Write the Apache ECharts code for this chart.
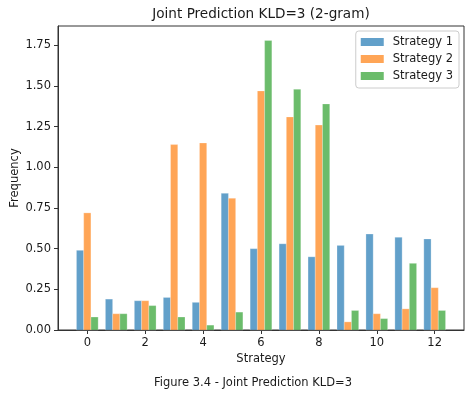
<!DOCTYPE html>
<html><head><meta charset="utf-8">
<script src="https://cdn.jsdelivr.net/npm/echarts@6/dist/echarts.min.js"></script>
<style>html,body{margin:0;padding:0;background:#fff}#c{width:473px;height:396px}</style>
</head><body><div id="c"></div>
<script>
const categories = [0,1,2,3,4,5,6,7,8,9,10,11,12];
const strategy1 = [0.49,0.19,0.18,0.20,0.17,0.84,0.50,0.53,0.45,0.52,0.59,0.57,0.56];
const strategy2 = [0.72,0.10,0.18,1.14,1.15,0.81,1.47,1.31,1.26,0.05,0.10,0.13,0.26];
const strategy3 = [0.08,0.10,0.15,0.08,0.03,0.11,1.78,1.48,1.39,0.12,0.07,0.41,0.12];
const xTicks = [0,2,4,6,8,10,12];
const seriesNames = ['Strategy 1','Strategy 2','Strategy 3'];
const colors = ['rgba(31,119,180,0.7)','rgba(255,127,14,0.7)','rgba(44,160,44,0.7)'];
const offsets = [-0.25,0,0.25];
const barW = 0.25;
const F = 'DejaVu Sans';
const FS = 11.5;

function mkSeries(idx, vals){
  return {
    name: seriesNames[idx], type:'custom',
    data: categories.map((c,i)=>[c+offsets[idx], vals[i]]),
    itemStyle:{color:colors[idx]},
    encode:{x:0,y:1},
    renderItem: function(params, api){
      const x = api.value(0), y = api.value(1);
      const p0 = api.coord([x - barW/2, 0]);
      const p1 = api.coord([x + barW/2, y]);
      return {type:'rect', shape:{x:p0[0], y:p1[1], width:p1[0]-p0[0], height:p0[1]-p1[1]},
        style:{fill:colors[idx], stroke:'rgba(255,255,255,0.5)', lineWidth:0.5}};
    }
  };
}

const chart = echarts.init(document.getElementById('c'), null, {renderer:'canvas'});
chart.setOption({
  animation:false,
  backgroundColor:'#fff',
  title:[{text:'Joint Prediction KLD=3 (2-gram)', left:256, top:2, textAlign:'center',
    textStyle:{fontFamily:F, fontSize:13.6, fontWeight:'normal', color:'#1a1a1a'}},
    {text:'Figure 3.4 - Joint Prediction KLD=3', left:248, top:372, textAlign:'center',
    textStyle:{fontFamily:F, fontSize:11.5, fontWeight:'normal', color:'#1a1a1a'}}],
  legend:{
    data: seriesNames.map((n,i)=>({name:n, itemStyle:{color:colors[i]}})),
    orient:'vertical', right:14, top:31, itemWidth:23, itemHeight:8, itemGap:5,
    icon:'rect', borderColor:'#ccc', borderWidth:1, borderRadius:3, padding:[5,6,6,5],
    textStyle:{fontFamily:F, fontSize:FS, color:'#1a1a1a', padding:[0,0,0,4]}
  },
  grid:{left:58, right:9, top:26, bottom:66, show:true, borderColor:'#333', borderWidth:1,
    backgroundColor:'transparent', containLabel:false, outerBoundsMode:'none'},
  xAxis:{type:'value', min:-1.0125, max:13.0125,
    name:'Strategy', nameLocation:'middle', nameGap:23, nameMoveOverlap:false,
    nameTextStyle:{fontFamily:F, fontSize:FS, color:'#1a1a1a'},
    axisLine:{show:true, onZero:false, lineStyle:{color:'#333'}},
    axisTick:{show:true, length:4, lineStyle:{color:'#333'}, customValues:xTicks},
    axisLabel:{fontFamily:F, fontSize:FS, color:'#1a1a1a', margin:7, customValues:xTicks},
    splitLine:{show:false}},
  yAxis:{type:'value', min:0, max:1.869, interval:0.25,
    name:'Frequency', nameLocation:'middle', nameGap:37, nameRotate:90, nameMoveOverlap:false,
    nameTextStyle:{fontFamily:F, fontSize:FS, color:'#1a1a1a'},
    axisLine:{show:true, onZero:false, lineStyle:{color:'#333'}},
    axisTick:{show:true, length:4, lineStyle:{color:'#333'}},
    axisLabel:{fontFamily:F, fontSize:FS, color:'#1a1a1a', margin:7, showMaxLabel:false,
      formatter:v=>v.toFixed(2)},
    splitLine:{show:false}},
  series:[mkSeries(0,strategy1), mkSeries(1,strategy2), mkSeries(2,strategy3)]
});
</script></body></html>
